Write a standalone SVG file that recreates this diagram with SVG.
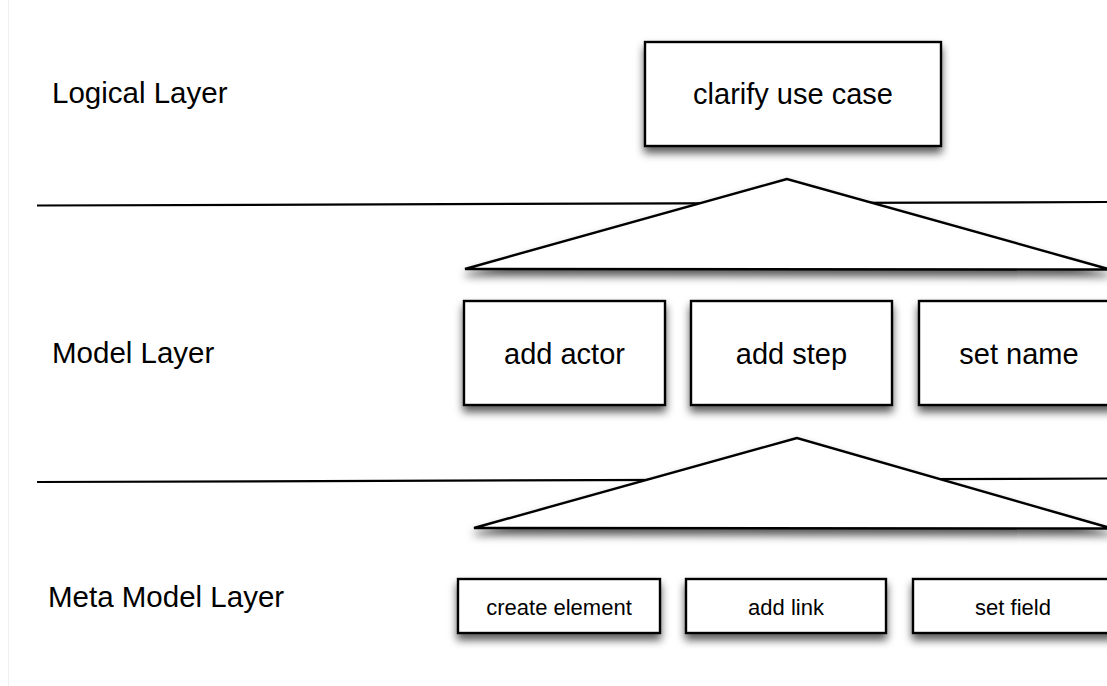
<svg xmlns="http://www.w3.org/2000/svg" width="1107" height="686" viewBox="0 0 1107 686">
<defs>
<filter id="sh" x="-10%" y="-20%" width="120%" height="160%">
<feDropShadow dx="0" dy="6" stdDeviation="4" flood-color="#000" flood-opacity="0.65"/>
</filter>
</defs>
<style>
.box{fill:#fff;stroke:#000;stroke-width:2.4;filter:url(#sh)}
.tri{fill:#fff;stroke:#000;stroke-width:2.4;stroke-linejoin:miter;filter:url(#sh)}
.sep{stroke:#000;stroke-width:2.2;fill:none}
.lbl{font-family:"Liberation Sans",Arial,sans-serif;font-size:29.5px;fill:#000}
.t1{font-family:"Liberation Sans",Arial,sans-serif;font-size:29px;fill:#000;text-anchor:middle}
.t2{font-family:"Liberation Sans",Arial,sans-serif;font-size:22px;fill:#000;text-anchor:middle}
</style>
<rect width="1107" height="686" fill="#fff"/>
<line x1="8.5" y1="0" x2="8.5" y2="686" stroke="#f0f0f0" stroke-width="1"/>
<g id="labels">
<text class="lbl" x="52" y="103">Logical Layer</text>
<text class="lbl" x="52" y="363">Model Layer</text>
<text class="lbl" x="48" y="607">Meta Model Layer</text>
</g>
<g id="connectors">
<line class="sep" x1="37" y1="205.5" x2="1107" y2="202"/>
<line class="sep" x1="37" y1="482" x2="1107" y2="478.5"/>
</g>
<g id="tri1"><polygon class="tri" points="787,179 465,269 1110,269.5"/></g>
<g id="tri2"><polygon class="tri" points="797,438 474,528 1112,528.5"/></g>
<g id="clarify"><rect class="box" x="645" y="42" width="296" height="104"/><text class="t1" x="793" y="104">clarify use case</text></g>
<g id="addactor"><rect class="box" x="464" y="301" width="201" height="104"/><text class="t1" x="564.5" y="364">add actor</text></g>
<g id="addstep"><rect class="box" x="691" y="301" width="201" height="104"/><text class="t1" x="791.5" y="364">add step</text></g>
<g id="setname"><rect class="box" x="919" y="301" width="201" height="104"/><text class="t1" x="1019" y="364">set name</text></g>
<g id="createelement"><rect class="box" x="458" y="579" width="202" height="54"/><text class="t2" x="559" y="615">create element</text></g>
<g id="addlink"><rect class="box" x="686" y="579" width="200" height="54"/><text class="t2" x="786" y="615">add link</text></g>
<g id="setfield"><rect class="box" x="913" y="579" width="202" height="54"/><text class="t2" x="1013" y="615">set field</text></g>
</svg>
